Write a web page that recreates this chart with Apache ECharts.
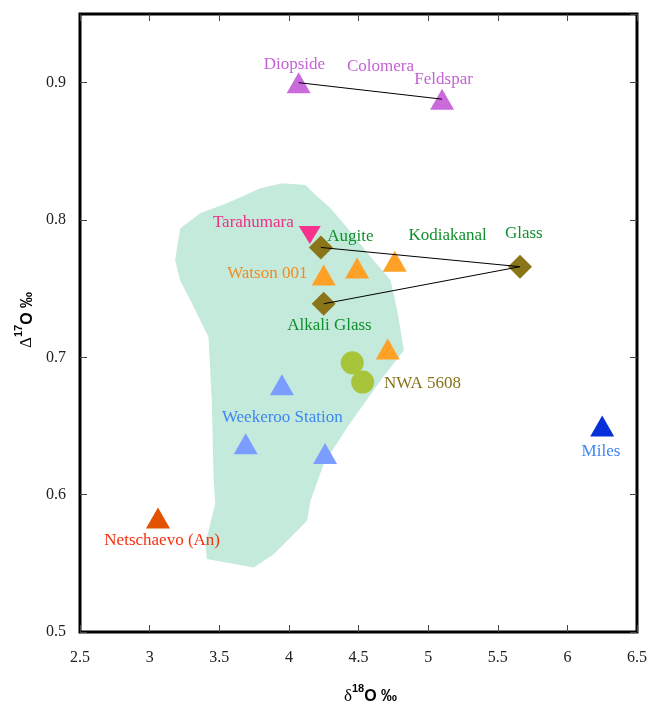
<!DOCTYPE html>
<html><head><meta charset="utf-8">
<script src="https://cdn.jsdelivr.net/npm/echarts@6/dist/echarts.min.js"></script>
<style>html,body{margin:0;padding:0;background:#fff}#c{width:655px;height:707px}</style>
</head><body><div id="c"></div>
<script>
// ---- data (delta18O, Delta17O) ----
const colomeraX = [4.07, 5.10];          // Diopside, Feldspar
const colomeraY = [0.900, 0.888];
const tarahumaraX = [4.15];
const tarahumaraY = [0.789];
const kodaikanalX = [4.23, 5.66, 4.25];  // Augite, Glass, Alkali Glass
const kodaikanalY = [0.780, 0.766, 0.739];
const watsonX = [4.25, 4.49, 4.76, 4.71];
const watsonY = [0.760, 0.765, 0.770, 0.706];
const nwaX = [4.455, 4.53];
const nwaY = [0.696, 0.682];
const weekerooX = [3.95, 3.69, 4.26];
const weekerooY = [0.680, 0.637, 0.630];
const milesX = [6.25];
const milesY = [0.650];
const netschaevoX = [3.06];
const netschaevoY = [0.583];
// shaded field (outline vertices)
const regionX = [3.951,4.119,4.178,4.299,4.443,4.586,4.730,4.778,4.826,4.658,4.419,4.250,4.155,4.131,4.011,3.891,3.747,3.412,3.399,3.435,3.471,3.459,3.447,3.423,3.304,3.219,3.183,3.219,3.363,3.555,3.795];
const regionY = [0.8268,0.8255,0.8195,0.8085,0.7915,0.7732,0.7562,0.7343,0.7051,0.6832,0.6491,0.6224,0.5956,0.5810,0.5688,0.5567,0.5469,0.5531,0.5640,0.5786,0.5932,0.6126,0.6662,0.7148,0.7392,0.7562,0.7708,0.7939,0.8049,0.8122,0.8231];
// annotation labels
const labelText = ['Diopside','Colomera','Feldspar','Tarahumara','Augite','Kodiakanal','Glass','Watson 001','Alkali Glass','NWA 5608','Weekeroo Station','Miles','Netschaevo (An)'];
const labelX = [4.040, 4.658, 5.111, 3.745, 4.442, 5.140, 5.687, 3.845, 4.291, 4.960, 3.953, 6.241, 3.090];
const labelY = [0.9135, 0.9117, 0.9025, 0.7985, 0.7883, 0.789, 0.7898, 0.7613, 0.7234, 0.681, 0.6562, 0.6314, 0.5664];
const labelColor = ['#c462d6','#c462d6','#c462d6','#ec2f87','#118f2e','#118f2e','#118f2e','#f5891c','#118f2e','#85721a','#3f86f2','#3f86f2','#f3300f'];
// axes
const xMin = 2.5, xMax = 6.5, xStep = 0.5;
const yMin = 0.5, yMax = 0.95, yStep = 0.1;

const pts = (xs, ys) => xs.map((x, i) => [x, ys[i]]);
const SERIF = "'Liberation Serif','Times New Roman',serif";
const SANS = "'Liberation Sans',Arial,sans-serif";

const chart = echarts.init(document.getElementById('c'));
const tickStyle = {show:true, inside:true, length:7, lineStyle:{color:'#444', width:1}};
const nameRich = {
  d:{fontFamily:SERIF, fontSize:17, color:'#000', lineHeight:22, verticalAlign:'bottom'},
  s:{fontFamily:SANS, fontWeight:'bold', fontSize:11, color:'#000', lineHeight:10, verticalAlign:'top'},
  o:{fontFamily:SANS, fontWeight:'bold', fontSize:16, color:'#000', lineHeight:22, verticalAlign:'bottom'}
};
const option = {
  backgroundColor:'#fff',
  animation:false,
  grid:{left:80, right:18, top:14, bottom:75, show:true, borderColor:'#000', borderWidth:3,
        backgroundColor:'transparent', containLabel:false, outerBoundsMode:'none'},
  xAxis:[{
    type:'value', min:xMin, max:xMax, interval:xStep,
    axisLine:{show:false}, splitLine:{show:false}, axisTick:tickStyle,
    axisLabel:{margin:18, fontFamily:SERIF, fontSize:16, color:'#222'},
    name:'{d|δ}{s|18}{o|O ‰}', nameLocation:'middle', nameGap:51,
    nameTextStyle:{padding:[0,0,0,24], rich:nameRich}
  },{
    type:'value', position:'top', min:xMin, max:xMax, interval:xStep,
    axisLine:{show:false}, splitLine:{show:false}, axisTick:tickStyle, axisLabel:{show:false}
  }],
  yAxis:[{
    type:'value', min:yMin, max:yMax, interval:yStep,
    axisLine:{show:false}, splitLine:{show:false}, axisTick:tickStyle,
    axisLabel:{margin:14, fontFamily:SERIF, fontSize:16, color:'#222', showMaxLabel:false},
    name:'{d|Δ}{s|17}{o|O ‰}', nameLocation:'middle', nameGap:36,
    nameTextStyle:{padding:[0,0,0,6], rich:nameRich}
  },{
    type:'value', position:'right', min:yMin, max:yMax, interval:yStep,
    axisLine:{show:false}, splitLine:{show:false}, axisTick:tickStyle, axisLabel:{show:false}
  }],
  series:[
    {type:'custom', silent:true, z:1, data:[[regionX[0], regionY[0]]],
     renderItem:(params, api) => ({
       type:'polygon',
       shape:{points: regionX.map((x, i) => api.coord([x, regionY[i]]))},
       style:{fill:'#c4eadb'}
     })},
    {type:'scatter', symbol:'triangle', symbolSize:[24,21], itemStyle:{color:'#c96bda', opacity:1}, data:pts(colomeraX, colomeraY)},
    {type:'scatter', symbol:'triangle', symbolRotate:180, symbolSize:[22,18], itemStyle:{color:'#f5328c', opacity:1}, data:pts(tarahumaraX, tarahumaraY)},
    {type:'scatter', symbol:'triangle', symbolSize:[24,21], itemStyle:{color:'#ffa126', opacity:1}, data:pts(watsonX, watsonY)},
    {type:'scatter', symbol:'circle', symbolSize:23, itemStyle:{color:'#a7c43b', opacity:1}, data:pts(nwaX, nwaY)},
    {type:'scatter', symbol:'triangle', symbolSize:[24,21], itemStyle:{color:'#7b9dff', opacity:1}, data:pts(weekerooX, weekerooY)},
    {type:'scatter', symbol:'triangle', symbolSize:[24,21], itemStyle:{color:'#0830d8', opacity:1}, data:pts(milesX, milesY)},
    {type:'scatter', symbol:'triangle', symbolSize:[24,21], itemStyle:{color:'#e25200', opacity:1}, data:pts(netschaevoX, netschaevoY)},
    {type:'scatter', symbol:'diamond', symbolSize:[24,24], itemStyle:{color:'#8a7519', opacity:1}, data:pts(kodaikanalX, kodaikanalY)},
    {type:'line', showSymbol:false, symbol:'none', lineStyle:{color:'#000', width:1}, data:pts(colomeraX, colomeraY), z:3},
    {type:'line', showSymbol:false, symbol:'none', lineStyle:{color:'#000', width:1}, data:pts(kodaikanalX, kodaikanalY), z:3},
    {type:'scatter', symbolSize:1, silent:true, z:4, itemStyle:{opacity:0},
     data: labelText.map((t, i) => ({name:t, value:[labelX[i], labelY[i]],
       label:{show:true, position:'inside', formatter:'{b}', fontFamily:SERIF, fontSize:17, color:labelColor[i], opacity:1}}))}
  ]
};
chart.setOption(option);
</script></body></html>
